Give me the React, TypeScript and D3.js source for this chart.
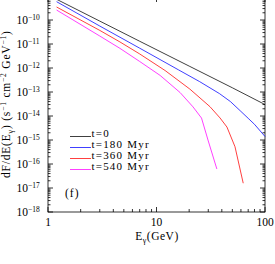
import { useEffect, useRef } from 'react';
import * as d3 from 'd3';

// energies (GeV) and fluxes, one pair per curve
const eT0 = [1.2, 3, 7, 20, 50, 100];
const fT0 = [7.3e-10, 9.0e-11, 1.3e-11, 1.2e-12, 1.5e-13, 3.0e-14];
const eT180 = [1.2, 3, 7, 16, 25, 38, 48, 60, 70, 80, 100];
const fT180 = [5.8e-10, 5.6e-11, 6.7e-12, 8.3e-13, 2.7e-13, 8.6e-14, 4.0e-14, 1.55e-14, 8.0e-15, 4.5e-15, 1.4e-15];
const eT360 = [1.2, 3, 4.6, 7, 12, 20.3, 31.1, 38.5, 44.6, 52.9, 63];
const fT360 = [3.48e-10, 3.69e-11, 1.22e-11, 3.85e-12, 7.85e-13, 1.32e-13, 2.45e-14, 8.3e-15, 3.47e-15, 5.25e-16, 1.58e-17];
const eT540 = [1.2, 3, 4.6, 7, 10.8, 16.5, 21.7, 26, 30, 36];
const fT540 = [2.6e-10, 2.15e-11, 6.6e-12, 1.87e-12, 4.9e-13, 9.5e-14, 2.4e-14, 8.2e-15, 9.1e-16, 6.2e-17];

const seriesNames = ['t=0', 't=180 Myr', 't=360 Myr', 't=540 Myr'];
const seriesColors = ['#000000', '#0000ff', '#ff0000', '#ff00ff'];

const xTickLabels = ['1', '10', '100'];
const yExponents = [-18, -17, -16, -15, -14, -13, -12, -11, -10];

function App() {
  const svgRef = useRef<SVGSVGElement>(null);

  useEffect(() => {
    document.body.style.margin = '0';
    const svg = d3.select(svgRef.current);
    svg.selectAll('*').remove();

    const left = 48, right = 265, bottom = 212, top = -4;
    const x = d3.scaleLog().domain([1, 100]).range([left, right]);
    const y = d3.scaleLog().domain([1e-18, 1e-9]).range([bottom, top]);

    const font = "'Liberation Serif', 'DejaVu Serif', serif";

    // frame
    svg.append('rect')
      .attr('x', left).attr('y', top)
      .attr('width', right - left).attr('height', bottom - top)
      .attr('fill', 'none').attr('stroke', '#000').attr('stroke-width', 0.8);

    // x ticks (bottom and top, inward)
    const xMinor: number[] = [];
    [1, 10].forEach(d => { for (let k = 2; k <= 9; k++) xMinor.push(d * k); });
    const xMajor = [1, 10, 100];
    const tg = svg.append('g').attr('stroke', '#000').attr('stroke-width', 0.8);
    xMajor.forEach(v => {
      tg.append('line').attr('x1', x(v)).attr('x2', x(v)).attr('y1', bottom).attr('y2', bottom - 5);
      tg.append('line').attr('x1', x(v)).attr('x2', x(v)).attr('y1', top).attr('y2', top + 6);
    });
    xMinor.forEach(v => {
      tg.append('line').attr('x1', x(v)).attr('x2', x(v)).attr('y1', bottom).attr('y2', bottom - 3);
      tg.append('line').attr('x1', x(v)).attr('x2', x(v)).attr('y1', top).attr('y2', top + 3);
    });

    // y ticks (left and right, inward)
    for (let p = -18; p <= -9; p++) {
      const v = Math.pow(10, p);
      tg.append('line').attr('x1', left).attr('x2', left + 5).attr('y1', y(v)).attr('y2', y(v));
      tg.append('line').attr('x1', right).attr('x2', right - 5).attr('y1', y(v)).attr('y2', y(v));
      if (p < -9) {
        for (let k = 2; k <= 9; k++) {
          const m = v * k;
          tg.append('line').attr('x1', left).attr('x2', left + 2.5).attr('y1', y(m)).attr('y2', y(m));
          tg.append('line').attr('x1', right).attr('x2', right - 2.5).attr('y1', y(m)).attr('y2', y(m));
        }
      }
    }

    // x tick labels
    xMajor.forEach((v, i) => {
      svg.append('text')
        .attr('x', x(v)).attr('y', 226)
        .attr('text-anchor', 'middle')
        .attr('font-family', font).attr('font-size', 11.5)
        .text(xTickLabels[i]);
    });

    // y tick labels
    yExponents.forEach(p => {
      const t = svg.append('text')
        .attr('x', 16.5).attr('y', y(Math.pow(10, p)) + 4)
        .attr('font-family', font).attr('font-size', 11.5);
      t.append('tspan').text('10');
      t.append('tspan').attr('dy', -4).attr('font-size', 7.5).text('\u2212' + Math.abs(p));
    });

    // axis titles
    const xt = svg.append('text')
      .attr('x', 157).attr('y', 240)
      .attr('text-anchor', 'middle')
      .attr('font-family', font).attr('font-size', 11.5)
      .attr('letter-spacing', 0.5);
    xt.append('tspan').text('E');
    xt.append('tspan').attr('dy', 3).attr('font-size', 8).text('\u03b3');
    xt.append('tspan').attr('dy', -3).text('(GeV)');

    const yt = svg.append('text')
      .attr('transform', 'translate(10,178) rotate(-90)')
      .attr('font-family', font).attr('font-size', 11.5)
      .attr('letter-spacing', 0.8);
    yt.append('tspan').text('dF/dE(E');
    yt.append('tspan').attr('dy', 3).attr('font-size', 8).text('\u03b3');
    yt.append('tspan').attr('dy', -3).text(') (s');
    yt.append('tspan').attr('dy', -4).attr('font-size', 7.5).text('\u22121');
    yt.append('tspan').attr('dy', 4).text(' cm');
    yt.append('tspan').attr('dy', -4).attr('font-size', 7.5).text('\u22122');
    yt.append('tspan').attr('dy', 4).text(' GeV');
    yt.append('tspan').attr('dy', -4).attr('font-size', 7.5).text('\u22121');
    yt.append('tspan').attr('dy', 4).text(')');

    // curves
    const line = d3.line<[number, number]>().x(d => x(d[0])).y(d => y(d[1]));
    const allE = [eT0, eT180, eT360, eT540];
    const allF = [fT0, fT180, fT360, fT540];
    allE.forEach((es, i) => {
      const pts = es.map((e, j) => [e, allF[i][j]] as [number, number]);
      svg.append('path')
        .attr('d', line(pts))
        .attr('fill', 'none')
        .attr('stroke', seriesColors[i])
        .attr('stroke-width', 0.75);
    });

    // legend
    seriesNames.forEach((name, i) => {
      const ly = 136.5 + i * 11;
      svg.append('line')
        .attr('x1', 70).attr('x2', 91).attr('y1', ly).attr('y2', ly)
        .attr('stroke', seriesColors[i]).attr('stroke-width', 0.75);
      svg.append('text')
        .attr('x', 91.5).attr('y', ly)
        .attr('font-family', font).attr('font-size', 11)
        .attr('letter-spacing', 1.2)
        .text(name);
    });

    svg.append('text')
      .attr('x', 65).attr('y', 197)
      .attr('font-family', font).attr('font-size', 11.5)
      .attr('letter-spacing', 1)
      .text('(f)');
  }, []);

  return (
    <svg ref={svgRef} width={275} height={264}
      style={{ position: 'absolute', left: 0, top: 0, background: '#fff' }} />
  );
}

export default App;
